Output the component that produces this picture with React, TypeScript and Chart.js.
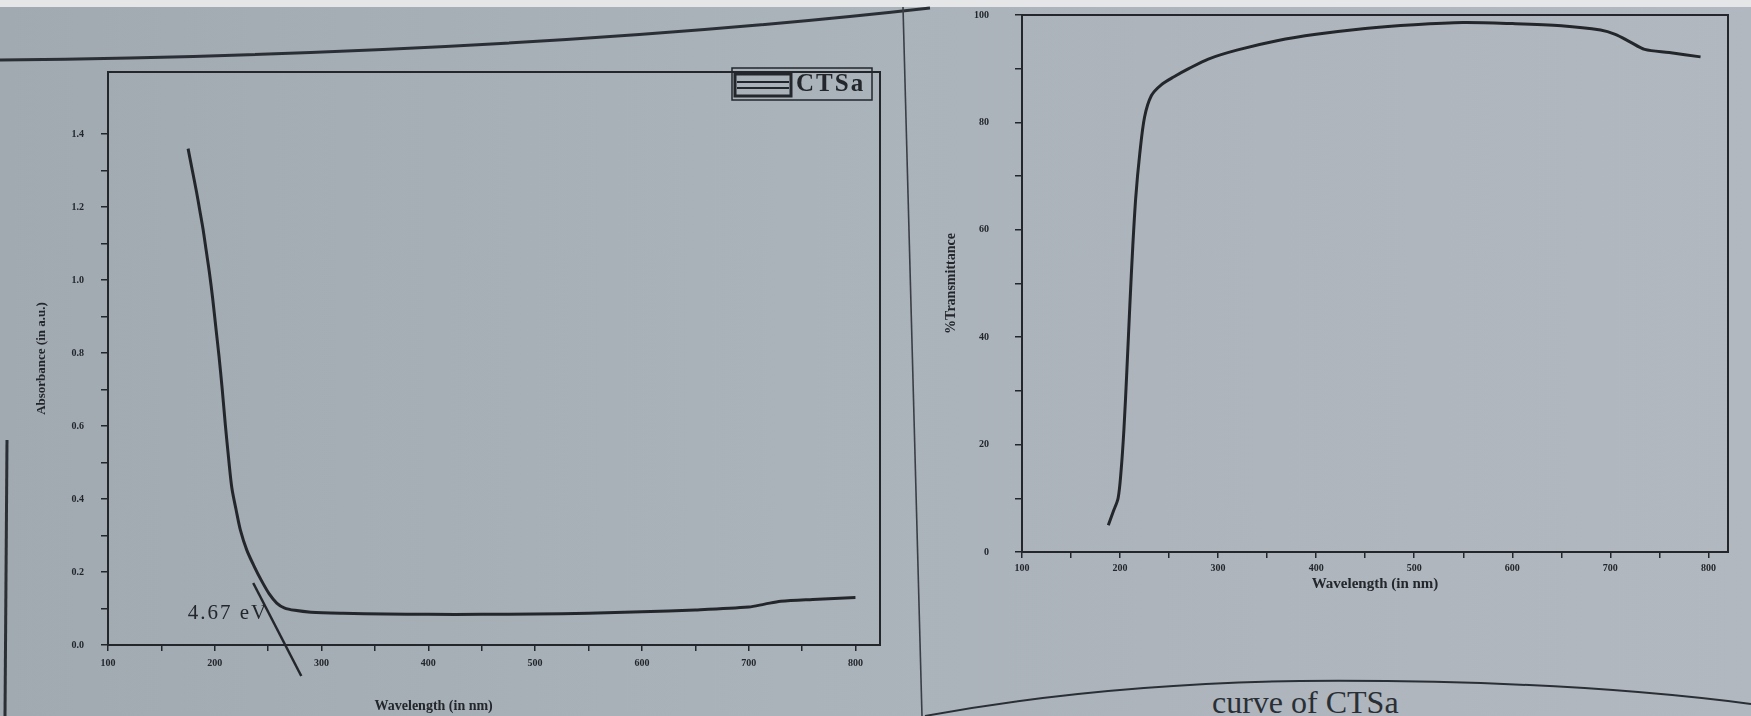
import React, { useEffect, useRef } from "react";
import { Chart, registerables } from "chart.js";

Chart.register(...registerables);

// ---------- data ----------
const absWavelength = [175, 179, 183, 186, 189, 192, 195, 198, 201, 204, 207, 210, 213, 216, 220, 224, 230, 237, 244, 251, 258, 265, 275, 290, 320, 360, 400, 450, 500, 550, 600, 650, 700, 715, 730, 760, 800];
const absValues = [1.36, 1.3, 1.24, 1.19, 1.14, 1.08, 1.02, 0.95, 0.87, 0.79, 0.7, 0.6, 0.51, 0.43, 0.37, 0.315, 0.26, 0.215, 0.175, 0.14, 0.115, 0.102, 0.095, 0.09, 0.087, 0.085, 0.084, 0.084, 0.085, 0.087, 0.091, 0.096, 0.104, 0.112, 0.12, 0.125, 0.13];

const tangentWavelength = [236, 281];
const tangentValues = [0.17, -0.085];

const transWavelength = [188, 193, 198, 201, 204, 207, 210, 213, 216, 220, 225, 232, 242, 255, 270, 290, 320, 360, 400, 450, 500, 550, 600, 650, 690, 705, 720, 735, 760, 792];
const transValues = [5.0, 7.5, 10, 15, 23, 34, 46, 57, 66, 74, 81, 85, 87, 88.5, 90, 91.8, 93.5, 95.2, 96.4, 97.5, 98.2, 98.6, 98.4, 98, 97.2, 96.4, 95, 93.6, 93, 92.2];

const wavelengthTickLabels = [100, 200, 300, 400, 500, 600, 700, 800];
const absTickLabels = [0, 0.2, 0.4, 0.6, 0.8, 1.0, 1.2, 1.4];
const transTickLabels = [0, 20, 40, 60, 80, 100];

const seriesName = "CTSa";
const bandGapText = "4.67 eV";
const xTitle = "Wavelength (in nm)";
const absTitle = "Absorbance (in a.u.)";
const transTitle = "%Transmittance";
const captionText = "curve of CTSa";

// ---------- styles ----------
const INK = "#23272c";
const SERIF = "'Liberation Serif', 'DejaVu Serif', serif";
const tickFont = { family: SERIF, size: 10, weight: "bold" as const };

const near = (v: number, list: number[]) => list.some((t) => Math.abs(t - v) < 1e-6);
// major ticks from the label list plus a minor tick half way between each pair
const withMinor = (labels: number[]) => {
  const out: number[] = [];
  labels.forEach((v, i) => {
    out.push(v);
    if (i < labels.length - 1) out.push((v + labels[i + 1]) / 2);
  });
  return out;
};

const framePlugin = {
  id: "frame",
  afterDatasetsDraw(chart: any) {
    const { ctx, chartArea: a } = chart;
    ctx.save();
    ctx.strokeStyle = INK;
    ctx.lineWidth = 2;
    ctx.strokeRect(a.left, a.top, a.right - a.left, a.bottom - a.top);
    ctx.restore();
  },
};

const absDecorPlugin = {
  id: "absDecor",
  afterDraw(chart: any) {
    const { ctx, chartArea: a, scales } = chart;
    ctx.save();
    // legend
    const x0 = a.right - 148, y0 = a.top - 4;
    ctx.strokeStyle = INK;
    ctx.lineWidth = 1.5;
    ctx.strokeRect(x0, y0, 140, 32);
    ctx.lineWidth = 3;
    ctx.strokeRect(x0 + 3, y0 + 6, 56, 22);
    ctx.lineWidth = 2;
    ctx.beginPath();
    ctx.moveTo(x0 + 5, y0 + 14);
    ctx.lineTo(x0 + 57, y0 + 14);
    ctx.moveTo(x0 + 5, y0 + 20);
    ctx.lineTo(x0 + 57, y0 + 20);
    ctx.stroke();
    ctx.fillStyle = INK;
    ctx.font = `bold 25px ${SERIF}`;
    (ctx as any).letterSpacing = "2px";
    ctx.textAlign = "left";
    ctx.textBaseline = "middle";
    ctx.fillText(seriesName, x0 + 64, y0 + 17);
    // band gap label
    ctx.font = `21px ${SERIF}`;
    ctx.textAlign = "right";
    ctx.fillText(bandGapText, scales.x.getPixelForValue(250), scales.y.getPixelForValue(0.085));
    (ctx as any).letterSpacing = "0px";
    // x title
    ctx.font = `bold 14px ${SERIF}`;
    ctx.textAlign = "center";
    ctx.fillText(xTitle, scales.x.getPixelForValue(405), a.bottom + 61);
    ctx.restore();
  },
};

export default function App() {
  const leftRef = useRef<HTMLCanvasElement>(null);
  const rightRef = useRef<HTMLCanvasElement>(null);

  useEffect(() => {
    const charts: Chart[] = [];
    const absPoints = absWavelength.map((x, i) => ({ x, y: absValues[i] }));
    const tangentPoints = tangentWavelength.map((x, i) => ({ x, y: tangentValues[i] }));
    const transPoints = transWavelength.map((x, i) => ({ x, y: transValues[i] }));

    const axisCommon = (labels: number[], fmt: (v: number) => string, padding: number, tickLength: number) => ({
      afterBuildTicks: (s: any) => { s.ticks = withMinor(labels).map((value) => ({ value })); },
      ticks: {
        autoSkip: false, maxRotation: 0, color: INK, font: tickFont, padding,
        callback: (v: any) => (near(Number(v), labels) ? fmt(Number(v)) : ""),
      },
      grid: { drawOnChartArea: false, drawTicks: true, tickLength, color: INK, lineWidth: 1.5 },
      border: { display: true, color: INK, width: 2 },
    });

    if (leftRef.current) {
      charts.push(
        new Chart(leftRef.current, {
          type: "line",
          data: {
            datasets: [
              { label: seriesName, data: absPoints, borderColor: INK, borderWidth: 3, pointRadius: 0, tension: 0.3, fill: false },
              { label: "tangent", data: tangentPoints, borderColor: INK, borderWidth: 2.5, pointRadius: 0, fill: false, clip: false } as any,
            ],
          },
          options: {
            responsive: false,
            animation: false,
            devicePixelRatio: 1,
            layout: { padding: { left: 0, top: 72, right: 20, bottom: 1 } },
            plugins: { legend: { display: false }, tooltip: { enabled: false } },
            scales: {
              x: {
                type: "linear",
                min: 100,
                max: 823,
                afterFit: (s: any) => { s.height = 70; },
                ...axisCommon(wavelengthTickLabels, (v) => String(v), 6, 6),
              },
              y: {
                type: "linear",
                min: 0,
                max: 1.57,
                afterFit: (s: any) => { s.width = 108; s.paddingTop = 6; s.paddingBottom = 6; },
                ...axisCommon(absTickLabels, (v) => v.toFixed(1), 17, 7),
                title: { display: true, text: absTitle, color: INK, font: { family: SERIF, size: 13, weight: "bold" }, padding: { top: 34, bottom: 0 } },
              },
            },
          },
          plugins: [framePlugin, absDecorPlugin],
        } as any)
      );
    }

    if (rightRef.current) {
      charts.push(
        new Chart(rightRef.current, {
          type: "line",
          data: {
            datasets: [
              { label: seriesName, data: transPoints, borderColor: INK, borderWidth: 3, pointRadius: 0, tension: 0.3, fill: false },
            ],
          },
          options: {
            responsive: false,
            animation: false,
            devicePixelRatio: 1,
            layout: { padding: { left: 0, top: 15, right: 23, bottom: 119 } },
            plugins: { legend: { display: false }, tooltip: { enabled: false } },
            scales: {
              x: {
                type: "linear",
                min: 100,
                max: 820,
                afterFit: (s: any) => { s.height = 45; },
                ...axisCommon(wavelengthTickLabels, (v) => String(v), 4, 6),
                title: { display: true, text: xTitle, color: INK, font: { family: SERIF, size: 15, weight: "bold" }, padding: { top: 0, bottom: 4 } },
              },
              y: {
                type: "linear",
                min: 0,
                max: 100,
                afterFit: (s: any) => { s.width = 102; s.paddingTop = 6; s.paddingBottom = 6; },
                ...axisCommon(transTickLabels, (v) => String(v), 26, 7),
                title: { display: true, text: transTitle, color: INK, font: { family: SERIF, size: 14, weight: "bold" }, padding: { top: 23, bottom: 0 } },
              },
            },
          },
          plugins: [framePlugin],
        } as any)
      );
    }

    return () => charts.forEach((c) => c.destroy());
  }, []);

  return (
    <div
      style={{
        position: "absolute",
        left: 0,
        top: 0,
        width: 1751,
        height: 716,
        overflow: "hidden",
        background: "linear-gradient(90deg, #a1a9b1 0%, #aab2ba 45%, #b2b8bf 100%)",
      }}
    >
      <div style={{ position: "absolute", left: 0, top: 0, width: 1751, height: 7, background: "#e4e6e8" }} />
      <svg width={1751} height={716} style={{ position: "absolute", left: 0, top: 0 }}>
        <path d="M0,60 Q520,54 930,8" stroke="#2a2f35" strokeWidth={3} fill="none" />
        <line x1={903} y1={7} x2={922} y2={716} stroke="#3a3f45" strokeWidth={1.6} />
        <line x1={7} y1={440} x2={5} y2={716} stroke="#2a2f35" strokeWidth={3} />
        <path d="M925,716 Q1100,684 1300,681 Q1560,679 1751,704" stroke="#2a2f35" strokeWidth={2} fill="none" />
        <text x={1212} y={713} fontFamily={SERIF} fontSize={32} fill="#2a2f35">{captionText}</text>
      </svg>
      <canvas ref={leftRef} width={900} height={716} style={{ position: "absolute", left: 0, top: 0 }} />
      <canvas ref={rightRef} width={831} height={716} style={{ position: "absolute", left: 920, top: 0 }} />
    </div>
  );
}
